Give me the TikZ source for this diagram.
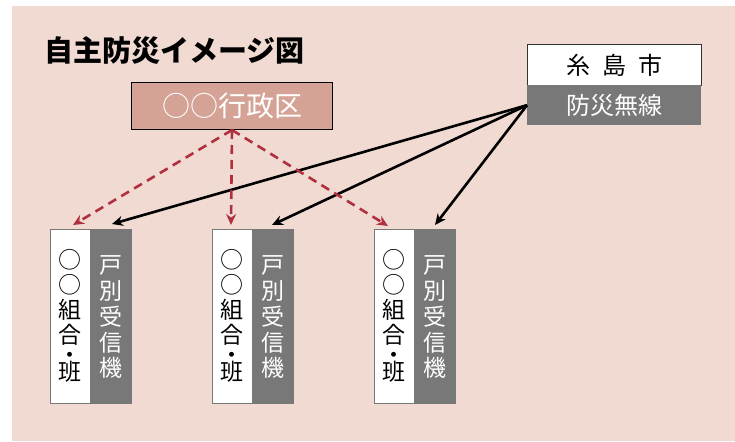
\documentclass[tikz,border=0pt]{standalone}
\usepackage{fontspec}
\newfontfamily\jp{Noto Sans CJK JP}
\usetikzlibrary{arrows.meta,calc}
\definecolor{bg}{RGB}{240,218,210}
\definecolor{salmon}{RGB}{212,163,150}
\definecolor{darkred}{RGB}{176,48,64}
\definecolor{midgray}{RGB}{120,120,120}
\begin{document}
\begin{tikzpicture}[x=1pt,y=-1pt,
  font=\jp,
  whitebox/.style={draw=midgray,line width=1pt,fill=white,minimum width=40.5pt,minimum height=174pt,inner sep=0pt,outer sep=0pt},
  graybox/.style={draw=midgray,line width=1pt,fill=midgray,minimum width=40.5pt,minimum height=174pt,inner sep=0pt,outer sep=0pt},
  vchar/.style={inner sep=0pt,font=\jp\fontsize{23}{23}\selectfont},
  redarrow/.style={draw=darkred,line width=2.6pt,dash pattern=on 9pt off 6pt,-{Stealth[length=11pt,width=10pt]}},
  blackarrow/.style={draw=black,line width=2.6pt,-{Stealth[length=11pt,width=10pt]}},
  boxtext/.style={font=\jp\fontsize{24}{24}\selectfont}
]
\useasboundingbox (0,0) rectangle (735,441);
\fill[white] (0,0) rectangle (735,441);
\fill[bg] (12,6) rectangle (735,441);

\node[anchor=west,inner sep=0pt,font=\jp\bfseries\fontsize{29}{29}\selectfont] (title) at (44,50) {自主防災イメージ図};

\node[draw=black,line width=1pt,fill=salmon,minimum width=201pt,minimum height=47pt,inner sep=0pt,text=white,font=\jp\fontsize{28}{28}\selectfont,anchor=north west] (gyosei) at (131,82) {○○行政区};

\node[draw=black!80,line width=1pt,fill=white,minimum width=174pt,minimum height=41pt,inner sep=0pt,boxtext,anchor=north west] (itoshima) at (527,44) {糸\hspace{12pt}島\hspace{12pt}市};
\node[fill=midgray,minimum width=174pt,minimum height=40pt,inner sep=0pt,boxtext,text=white,anchor=north west] (bosai) at (527,85) {防災無線};

\foreach \k/\L in {1/50,2/212,3/374}{
  \node[whitebox,anchor=north west] (w\k) at (\L,229) {};
  \node[graybox,anchor=north west] (g\k) at (\L+40.5,229) {};
  \foreach \c/\y [count=\i] in {○/260,○/285,組/309.5,合/335,班/371.5}
    \node[vchar] (w\k c\i) at (\L+20.25,\y) {\c};
  \node[vchar,text height=4pt,text depth=0pt] (w\k dot) at (\L+20.25,354.5) {\raisebox{-6.7pt}{・}};
  \foreach \c/\y [count=\i] in {戸/265,別/291,受/317,信/342.5,機/368}
    \node[vchar,text=white] (g\k c\i) at (\L+60.75,\y) {\c};
}

\coordinate (r1) at (73,225);
\coordinate (r2) at (231,225);
\coordinate (r3) at (388,226);
\coordinate (b1) at (112,224);
\coordinate (b2) at (272,225);
\coordinate (b3) at (435,225);

\foreach \i in {1,2,3}{
  \draw[redarrow] (gyosei.south) -- (r\i);
  \draw[blackarrow] (bosai.west) -- (b\i);
}
\end{tikzpicture}
\end{document}
